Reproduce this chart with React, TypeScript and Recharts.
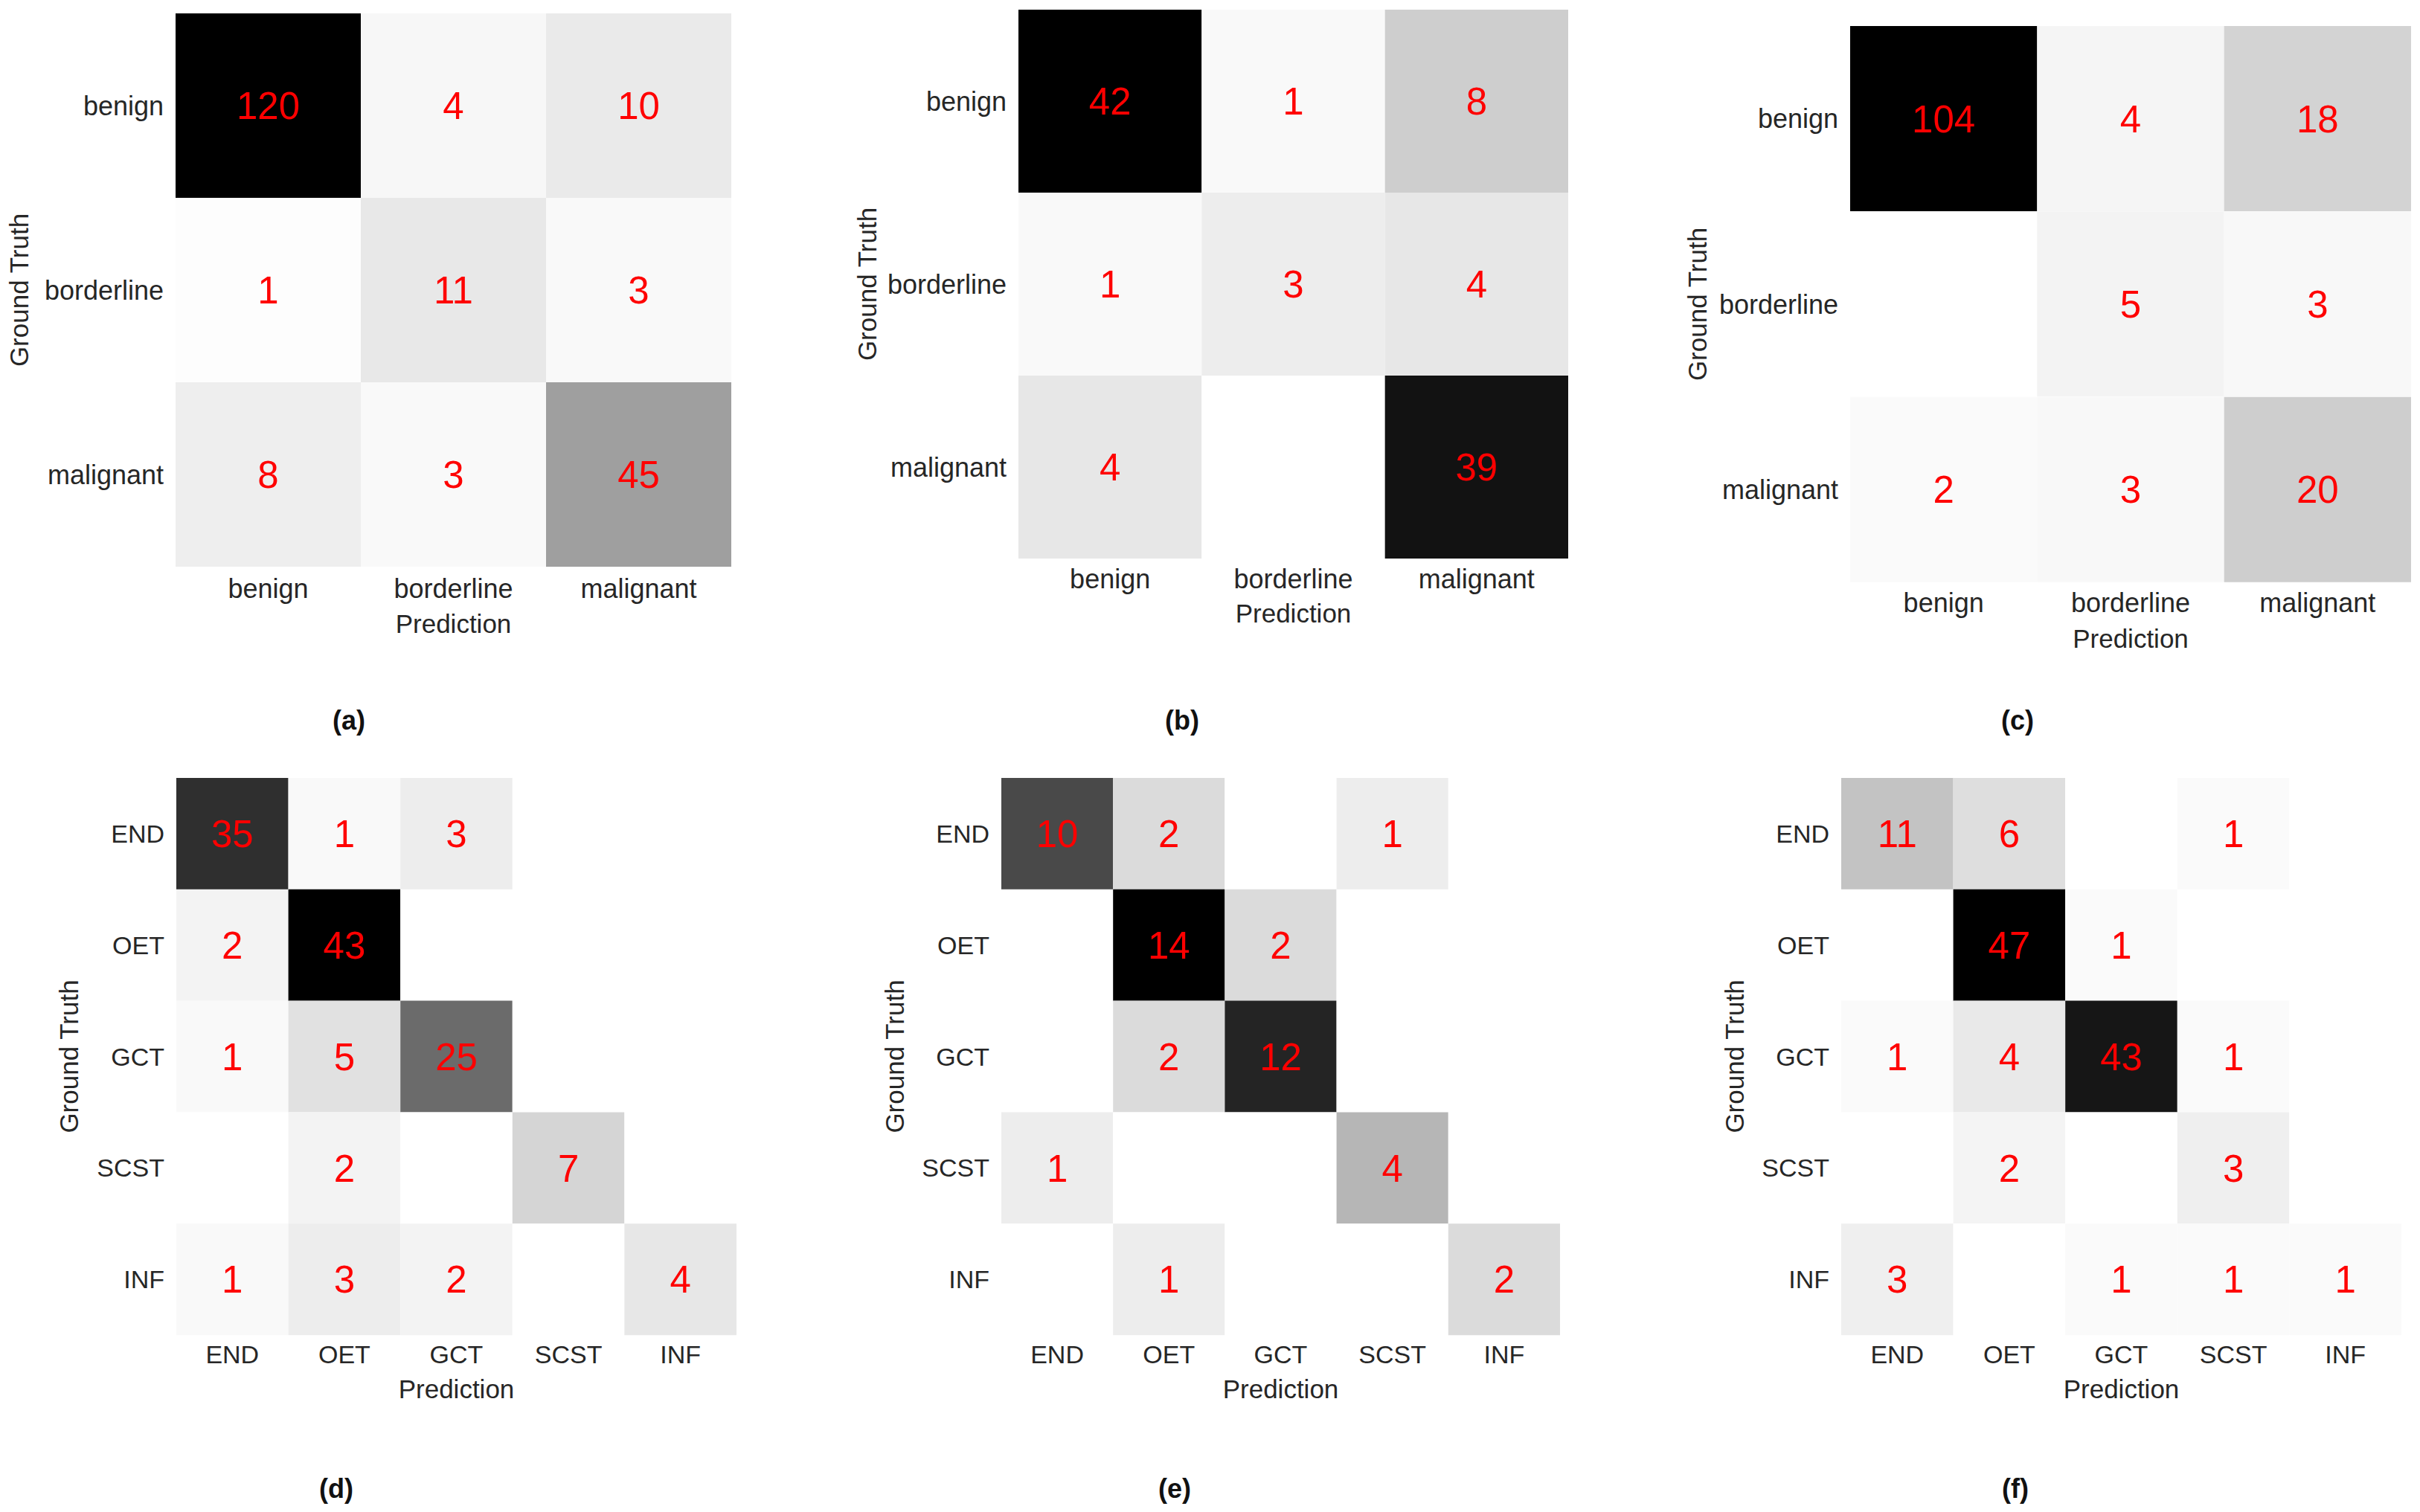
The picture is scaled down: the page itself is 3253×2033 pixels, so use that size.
import { BarChart, Bar, XAxis, YAxis, Cell, LabelList } from 'recharts'

// row / column categories
const gradeLabels = ['benign', 'borderline', 'malignant']
const typeLabels  = ['END', 'OET', 'GCT', 'SCST', 'INF']

// confusion matrices, rows = ground truth, cols = prediction (0 = empty cell)
const matrixA = [[120, 4, 10], [1, 11, 3], [8, 3, 45]]
const matrixB = [[42, 1, 8], [1, 3, 4], [4, 0, 39]]
const matrixC = [[104, 4, 18], [0, 5, 3], [2, 3, 20]]

const matrixD = [
  [35, 1, 3, 0, 0],
  [2, 43, 0, 0, 0],
  [1, 5, 25, 0, 0],
  [0, 2, 0, 7, 0],
  [1, 3, 2, 0, 4],
]
const matrixE = [
  [10, 2, 0, 1, 0],
  [0, 14, 2, 0, 0],
  [0, 2, 12, 0, 0],
  [1, 0, 0, 4, 0],
  [0, 1, 0, 0, 2],
]
const matrixF = [
  [11, 6, 0, 1, 0],
  [0, 47, 1, 0, 0],
  [1, 4, 43, 1, 0],
  [0, 2, 0, 3, 0],
  [3, 0, 1, 1, 1],
]

const AXIS_W  = 240
const XAXIS_H = 110
const TEXT    = '#262626'

interface Panel {
  tag: string
  labels: string[]
  matrix: number[][]
  left: number; top: number; w: number; h: number
  gtGap: number       // distance grid -> "Ground Truth"
  tickSize: number
  tickBase: number    // x tick baseline below grid
  predBase: number    // "Prediction" baseline below grid
  capX: number; capY: number
}

const panels: Panel[] = [
  { tag: '(a)', labels: gradeLabels, matrix: matrixA, left: 236,  top: 18,   w: 747, h: 744, gtGap: 210, tickSize: 36, tickBase: 42, predBase: 89, capX: 469,  capY: 969 },
  { tag: '(b)', labels: gradeLabels, matrix: matrixB, left: 1369, top: 13,   w: 739, h: 738, gtGap: 203, tickSize: 36, tickBase: 40, predBase: 86, capX: 1589, capY: 969 },
  { tag: '(c)', labels: gradeLabels, matrix: matrixC, left: 2487, top: 35,   w: 754, h: 748, gtGap: 205, tickSize: 36, tickBase: 40, predBase: 88, capX: 2712, capY: 969 },
  { tag: '(d)', labels: typeLabels,  matrix: matrixD, left: 237,  top: 1046, w: 753, h: 749, gtGap: 144, tickSize: 34, tickBase: 38, predBase: 85, capX: 452,  capY: 2002 },
  { tag: '(e)', labels: typeLabels,  matrix: matrixE, left: 1346, top: 1046, w: 751, h: 749, gtGap: 143, tickSize: 34, tickBase: 38, predBase: 85, capX: 1579, capY: 2002 },
  { tag: '(f)', labels: typeLabels,  matrix: matrixF, left: 2475, top: 1046, w: 753, h: 749, gtGap: 143, tickSize: 34, tickBase: 38, predBase: 85, capX: 2709, capY: 2002 },
]

function Heatmap({ p }: { p: Panel }) {
  const n   = p.labels.length
  const max = Math.max(...p.matrix.flat())
  const shade = (v: number) => {
    const g = Math.round(255 * (1 - v / max))
    return `rgb(${g},${g},${g})`
  }
  const data = p.labels.map((name, i) => {
    const row: any = { name }
    p.matrix[i].forEach((v, j) => { row[`c${j}`] = 1; row[`v${j}`] = v })
    return row
  })

  return (
    <div style={{ position: 'absolute', left: p.left - AXIS_W, top: p.top }}>
      <BarChart layout="vertical" width={AXIS_W + p.w} height={p.h + XAXIS_H} data={data}
        margin={{ top: 0, right: 0, bottom: 0, left: 0 }} barCategoryGap={0} barGap={0}>
        <XAxis type="number" domain={[0, n]} ticks={p.labels.map((_, j) => j + 0.5)} interval={0}
          tickFormatter={(v: number) => p.labels[Math.floor(v)]}
          axisLine={false} tickLine={false} tickSize={0} tickMargin={p.tickBase - Math.round(0.71 * p.tickSize)}
          height={XAXIS_H} tick={{ fontSize: p.tickSize, fill: TEXT }}
          label={{ value: 'Prediction', position: 'insideBottom', offset: XAXIS_H - p.predBase, fontSize: 35, fill: TEXT }} />
        <YAxis type="category" dataKey="name" width={AXIS_W}
          axisLine={false} tickLine={false} tickSize={0} tickMargin={16}
          tick={{ fontSize: p.tickSize, fill: TEXT }}
          label={{ value: 'Ground Truth', angle: -90, position: 'insideLeft', offset: AXIS_W - p.gtGap,
            fontSize: 35, fill: TEXT, style: { textAnchor: 'middle' } }} />
        {p.labels.map((_, j) => (
          <Bar key={j} dataKey={`c${j}`} stackId="m" isAnimationActive={false}>
            {p.matrix.map((r, i) => <Cell key={i} fill={shade(r[j])} />)}
            <LabelList dataKey={`v${j}`} position="center" fill="#ff0000" fontSize={51}
              formatter={(v: any) => (v ? v : '')} />
          </Bar>
        ))}
      </BarChart>
    </div>
  )
}

export default function App() {
  return (
    <div style={{ position: 'absolute', left: 0, top: 0, width: 3253, height: 2033, background: '#fff',
      fontFamily: "'Liberation Sans', Arial, sans-serif" }}>
      {panels.map(p => <Heatmap key={p.tag} p={p} />)}
      {panels.map(p => (
        <div key={p.tag + 'cap'} style={{ position: 'absolute', left: p.capX - 60, top: p.capY - 21, width: 120,
          textAlign: 'center', fontWeight: 'bold', fontSize: 36, lineHeight: '42px', color: '#111' }}>
          {p.tag}
        </div>
      ))}
    </div>
  )
}
